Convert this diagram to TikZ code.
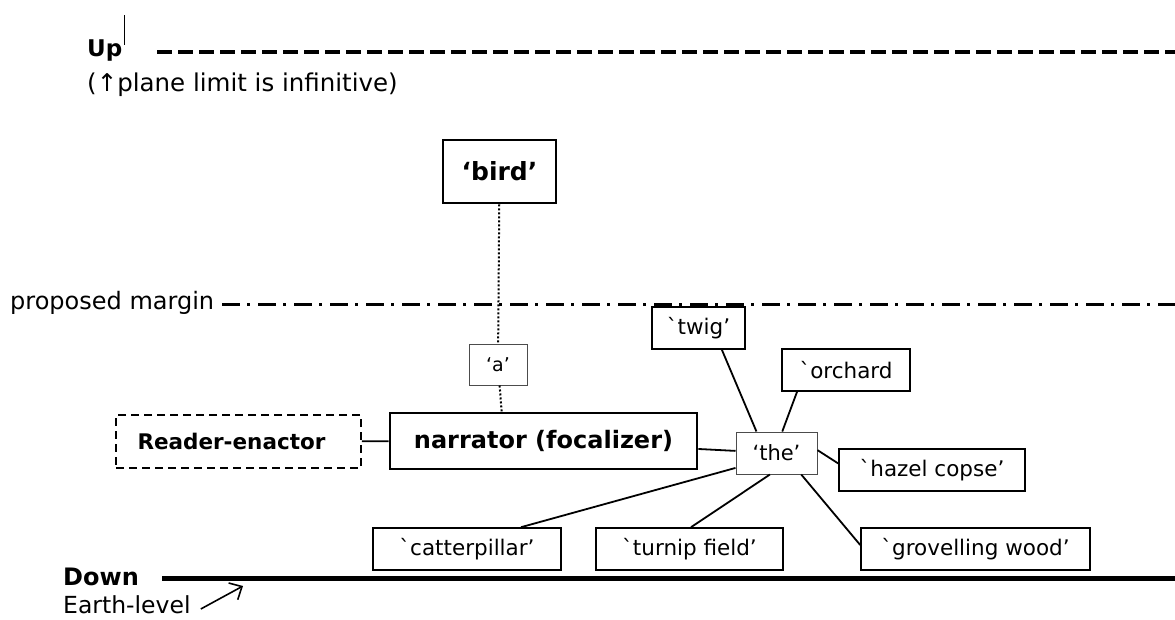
\documentclass[tikz,border=0pt]{standalone}
\usepackage{fontspec}
\usetikzlibrary{arrows.meta}
\setmainfont{DejaVu Sans}
\begin{document}
\begin{tikzpicture}[x=1pt,y=-1pt]
        \tikzstyle{word}=[rectangle,draw=black,line width=1.6pt,inner sep=0pt,minimum height=42pt,font=\fontsize{21.5}{25}\selectfont]
        \tikzstyle{article}=[rectangle,draw=black!70,line width=1pt,inner sep=0pt,minimum height=42pt,font=\fontsize{21}{25}\selectfont]
        \tikzstyle{actor}=[rectangle,draw=black,line width=2.6pt,inner sep=0pt,font=\bfseries\fontsize{24}{28}\selectfont]
        \tikzstyle{level}=[anchor=west,inner sep=0pt,font=\fontsize{24.5}{28}\selectfont]
        \tikzstyle{edge}=[draw, line width=1.8pt]
        \tikzstyle{link}=[draw, line width=2pt, dash pattern=on 2pt off 2pt]
        \useasboundingbox (0,0) rectangle (1175,619);
       \begin{scope}
         % levels
         \node [level,font=\bfseries\fontsize{23}{26}\selectfont] (up) at (87,51) {Up};
         \node [level] (limit) at (87,85) {(↑plane limit is infinitive)};
         \node [level,font=\fontsize{24}{28}\selectfont] (margin) at (10,303) {proposed margin};
         \node [level,font=\bfseries\fontsize{24}{28}\selectfont] (down) at (63,577) {Down};
         \node [level,font=\fontsize{23.5}{28}\selectfont] (earth) at (63,605) {Earth-level};
         \coordinate (upstart) at (157,52);
         \coordinate (upend) at (1175,52);
         \coordinate (marginstart) at (222,304);
         \coordinate (marginend) at (1175,304);
         \coordinate (downstart) at (162,578);
         \coordinate (downend) at (1175,578);
         \coordinate (ground) at (243,586);
         \draw [line width=1pt] (124,15) -- (124,45);
         \draw [line width=4pt,dash pattern=on 15pt off 6pt] (upstart) -- (upend);
         \draw [line width=3pt,dash pattern=on 18pt off 7pt on 3pt off 8pt] (marginstart) -- (marginend);
         \draw [line width=5pt] (downstart) -- (downend);
         \draw [-{Straight Barb[length=10pt,width=19pt]},line width=1.6pt] ([xshift=10pt,yshift=-4pt]earth.east) -- (ground);
         % actors
         \node [actor,minimum width=113pt,minimum height=63pt,font=\bfseries\fontsize{25}{30}\selectfont] (bird) at (499.5,171.5) {‘bird’};
         \node [article,minimum width=58pt,minimum height=41pt,font=\fontsize{19}{22}\selectfont] (a) at (498,364.5) {‘a’};
         \node [actor,minimum width=307pt,minimum height=56pt] (narrator) at (543.5,441) {narrator (focalizer)};
         \node [actor,line width=1.8pt,dash pattern=on 8pt off 5pt,minimum width=245pt,minimum height=53pt,font=\bfseries\fontsize{21.5}{25}\selectfont] (reader) at (238.5,441.5) {Reader-enactor\hspace*{14pt}};
         % words
         \node [article,minimum width=81pt] (the) at (776.5,453) {‘the’};
         \node [word,minimum width=93pt] (twig) at (698.5,328) {\textasciigrave twig’};
         \node [word,minimum width=128pt] (orchard) at (846,370) {\textasciigrave orchard};
         \node [word,minimum width=186pt] (hazel) at (932,470) {\textasciigrave hazel copse’};
         \node [word,minimum width=188pt] (catter) at (467,549) {\textasciigrave catterpillar’};
         \node [word,minimum width=187pt] (turnip) at (689.5,549) {\textasciigrave turnip field’};
         \node [word,minimum width=229pt] (grovel) at (975.5,549) {\textasciigrave grovelling wood’};
         \path[link] (bird) -- (a);
         \path[link] (a) -- (narrator.145);
         \path[edge] (reader) -- (narrator);
         \path[edge] (narrator) -- (the);
         \path[edge] (the.133) -- (twig.317);
         \path[edge] (the.75) -- (orchard.204);
         \path[edge] (the.4) -- (hazel.176);
         \path[edge] (the.319) -- (grovel.178);
         \path[edge] (the.253) -- (turnip.86);
         \path[edge] (the.200) -- (catter.22);
        \end{scope}
      \end{tikzpicture}
\end{document}
